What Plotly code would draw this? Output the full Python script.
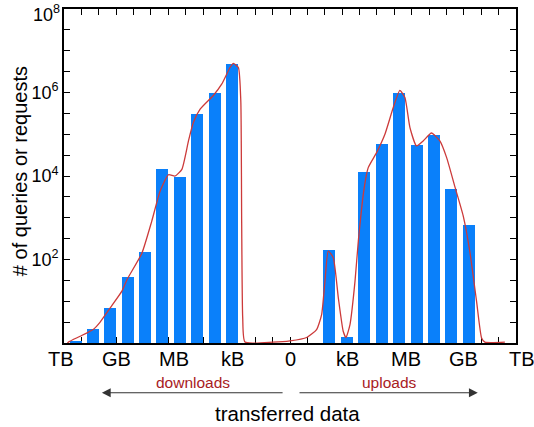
import plotly.graph_objects as go

# ---- data (x in units of factor-8 steps of transferred size, 0 at centre) ----
download_x = [-3.34, -4.34, -5.34, -6.34, -7.34, -8.34, -9.34, -10.34, -11.32, -12.33]
download_counts = [4.9e6, 1.0e6, 3.1e5, 9.7e3, 1.5e4, 150, 38, 6.8, 2.1, 1.12]

upload_x = [2.27, 3.28, 4.28, 5.28, 6.28, 7.28, 8.28, 9.28, 10.28]
upload_counts = [167, 1.35, 1.27e4, 5.8e4, 9.8e5, 5.5e4, 9.7e4, 5.0e3, 660]

fit_x = [-12.95, -12.74, -12.07, -11.30, -10.92, -10.34, -9.67, -9.37, -8.52, -7.95,
         -7.47, -6.99, -6.61, -6.22, -5.84, -5.56, -5.17, -4.41, -3.93, -3.45,
         -3.26, -2.97, -2.83, -2.78, -2.72, -2.59, -0.98, 0.0, 0.96, 1.53,
         1.82, 2.01, 2.20, 2.49, 2.78, 3.06, 3.22, 3.45, 3.74, 3.93,
         4.27, 4.50, 4.98, 5.46, 5.94, 6.32, 6.61, 6.90, 7.28, 7.66,
         8.14, 8.62, 9.01, 9.48, 9.96, 10.34, 10.73, 11.02, 11.21, 12.36]
fit_log10 = [-0.1, 0.02, 0.16, 0.33, 0.5, 0.84, 1.24, 1.52, 2.15, 2.92,
             3.64, 4.03, 4.0, 4.16, 4.84, 5.28, 5.6, 5.93, 6.2, 6.6,
             6.7, 6.6, 5.8, 2.9, 0.6, 0.02, 0.02, 0.05, 0.13, 0.32,
             0.68, 1.48, 2.2, 2.04, 1.08, 0.28, 0.13, 0.44, 1.48, 2.44,
             3.72, 4.2, 4.56, 5.0, 5.64, 6.05, 5.88, 5.16, 4.72, 4.84,
             5.03, 4.84, 4.44, 3.75, 3.05, 2.2, 1.0, 0.12, 0.02, 0.02]
fit_y = [10 ** v for v in fit_log10]

x_label_pos = [-13.2, -10, -6.67, -3.33, 0, 3.33, 6.67, 10, 13.33]
x_label_text = ["TB", "GB", "MB", "kB", "0", "kB", "MB", "GB", "TB"]

y_label_exp = [2, 4, 6]
y_label_text = ["10<sup>2</sup>", "10<sup>4</sup>", "10<sup>6</sup>"]
y_top_label = "10<sup>8</sup>"

XMIN, XMAX = -13, 13

BLUE = "#0a80fa"
RED = "#cc3a3a"
DARKRED = "#a8201e"
FONT = "Liberation Sans, Arial, sans-serif"


def xpaper(v):
    return (v - XMIN) / (XMAX - XMIN)


fig = go.Figure()
fig.add_trace(go.Bar(x=download_x, y=download_counts, width=0.69,
                     marker=dict(color=BLUE, line=dict(width=0)), showlegend=False))
fig.add_trace(go.Bar(x=upload_x, y=upload_counts, width=0.69,
                     marker=dict(color=BLUE, line=dict(width=0)), showlegend=False))
fig.add_trace(go.Scatter(x=fit_x, y=fit_y, mode="lines",
                         line=dict(color=RED, width=1.3, shape="spline", smoothing=0.5),
                         showlegend=False))

# y ticks every half decade, labels on even decades
ytv, ytt = [], []
for k in range(0, 17):
    e = k / 2
    ytv.append(10 ** e)
    ytt.append(y_label_text[y_label_exp.index(int(e))] if (k % 2 == 0 and int(e) in y_label_exp) else "")

fig.update_layout(
    width=534, height=427,
    margin=dict(l=64, r=18, t=9, b=84, autoexpand=False),
    paper_bgcolor="white", plot_bgcolor="white",
    font=dict(family=FONT, color="black", size=18),
    bargap=0,
    xaxis=dict(range=[XMIN, XMAX], showgrid=False, zeroline=False,
               showline=True, linecolor="black", linewidth=1.6, mirror="ticks",
               ticks="inside", ticklen=6, tickwidth=1.3, tickcolor="black",
               tickmode="linear", tick0=0, dtick=1, showticklabels=False,
               layer="below traces"),
    yaxis=dict(type="log", range=[-0.002, 8.002], showgrid=False, zeroline=False,
               showline=True, linecolor="black", linewidth=1.6, mirror="ticks",
               ticks="inside", ticklen=6, tickwidth=1.3, tickcolor="black",
               tickmode="array", tickvals=ytv, ticktext=ytt,
               tickfont=dict(size=18), layer="below traces", automargin=False),
)

ann = []
ann.append(dict(x=0, y=1, xref="paper", yref="paper", text=y_top_label, showarrow=False,
                font=dict(size=18, color="black"), xanchor="right", yanchor="top",
                xshift=-2, yshift=9))
for xv, t in zip(x_label_pos, x_label_text):
    ann.append(dict(x=xpaper(xv), y=-0.048, xref="paper", yref="paper", text=t, showarrow=False,
                    font=dict(size=20, color="black"), xanchor="center", yanchor="middle"))
ann.append(dict(x=xpaper(-5.6), y=-0.119, xref="paper", yref="paper", text="downloads", showarrow=False,
                font=dict(size=15.5, color=DARKRED), xanchor="center", yanchor="middle"))
ann.append(dict(x=xpaper(5.75), y=-0.119, xref="paper", yref="paper", text="uploads", showarrow=False,
                font=dict(size=15.5, color=DARKRED), xanchor="center", yanchor="middle"))
ann.append(dict(x=xpaper(-0.14), y=-0.21, xref="paper", yref="paper", text="transferred data", showarrow=False,
                font=dict(size=20.5, color="black"), xanchor="center", yanchor="middle"))
ann.append(dict(x=-0.097, y=0.515, xref="paper", yref="paper", text="# of queries or requests",
                textangle=-90, showarrow=False, font=dict(size=20, color="black"),
                xanchor="center", yanchor="middle"))
# arrows
ann.append(dict(x=-10.82, y=-0.149, ax=-0.34, ay=0, xref="x", yref="paper",
                axref="x", ayref="pixel", text="", showarrow=True,
                arrowhead=2, arrowsize=1.6, arrowwidth=1.1, arrowcolor="#333"))
ann.append(dict(x=10.8, y=-0.149, ax=0.46, ay=0, xref="x", yref="paper",
                axref="x", ayref="pixel", text="", showarrow=True,
                arrowhead=2, arrowsize=1.6, arrowwidth=1.1, arrowcolor="#333"))
fig.update_layout(annotations=ann)

fig.write_html("out.html", config={"displayModeBar": False},
               post_script="document.body.style.margin='0px';document.body.style.overflow='hidden';")
